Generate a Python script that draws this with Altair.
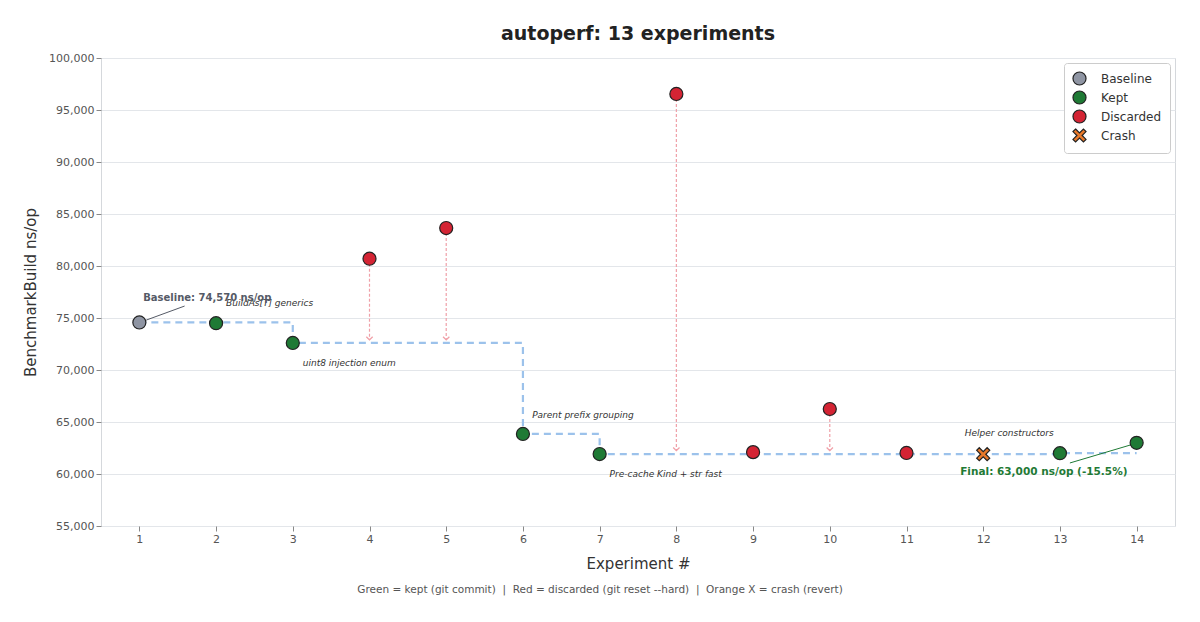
import altair as alt
import pandas as pd

# ---- data ----
experiments = [1, 2, 3, 4, 5, 6, 7, 8, 9, 10, 11, 12, 13, 14]
values = [74570, 74500, 72600, 80700, 83650, 63850, 61920, 96540, 62100, 66250, 62020, 61900, 62000, 63000]
statuses = ["Baseline", "Kept", "Kept", "Discarded", "Discarded", "Kept", "Kept",
            "Discarded", "Discarded", "Discarded", "Discarded", "Crash", "Kept", "Kept"]
best_so_far = [74570, 74570, 72600, 72600, 72600, 63850, 61920, 61920, 61920, 61920, 61920, 61920, 62000, 62000]

# discarded regressions drawn as arrows down to the best value
arrow_x = [4, 5, 8, 10]
arrow_from = [80700, 83650, 96540, 66250]
arrow_to = [72900, 72900, 62250, 62250]

# annotations
note_x = [2.13, 3.13, 6.12, 7.13, 11.76]
note_y = [76440, 70670, 65670, 60000, 63940]
note_text = ["BuildAs[T] generics", "uint8 injection enum", "Parent prefix grouping",
             "Pre-cache Kind + str fast", "Helper constructors"]

base_label_x = [1.05]
base_label_y = [76900]
base_label = ["Baseline: 74,570 ns/op"]
final_label_x = [11.7]
final_label_y = [60200]
final_label = ["Final: 63,000 ns/op (-15.5%)"]

base_conn = {"x": [1.09], "x2": [1.59], "y": [74800], "y2": [76150]}
final_conn = {"x": [13.13], "x2": [13.96], "y": [61060], "y2": [62880]}

status_order = ["Baseline", "Kept", "Discarded", "Crash"]
status_colors = ["#8f95a3", "#1f7a35", "#d42434", "#e8792a"]
x_path = "M-0.6,-1L0,-0.4L0.6,-1L1,-0.6L0.4,0L1,0.6L0.6,1L0,0.4L-0.6,1L-1,0.6L-0.4,0L-1,-0.6Z"
status_shapes = ["circle", "circle", "circle", x_path]
status_sizes = [170, 170, 170, 260]

footer_text = "Green = kept (git commit)\u00a0\u00a0|\u00a0\u00a0Red = discarded (git reset --hard)\u00a0\u00a0|\u00a0\u00a0Orange X = crash (revert)"

FONT = "DejaVu Sans"

pts = pd.DataFrame({"exp": experiments, "value": values, "status": statuses})
step = pd.DataFrame({"exp": experiments, "best": best_so_far})
arrows = pd.DataFrame({"exp": arrow_x, "y1": arrow_from, "y2": arrow_to})
notes = pd.DataFrame({"x": note_x, "y": note_y, "t": note_text})

xscale = alt.Scale(domain=[0.5, 14.5], nice=False, zero=False)
yscale = alt.Scale(domain=[55000, 100000], nice=False, zero=False)

xaxis = alt.Axis(values=experiments, title="Experiment #", grid=False, format="d",
                 labelFontSize=11, labelColor="#555", titleFontSize=15, titleColor="#333",
                 titleFontWeight="normal", titlePadding=12, tickColor="#888", domain=False,
                 labelFont=FONT, titleFont=FONT)
yaxis = alt.Axis(values=list(range(55000, 100001, 5000)), format=",d", title="BenchmarkBuild ns/op",
                 grid=True, gridColor="#e3e6ea", labelFontSize=11, labelColor="#555",
                 titleFontSize=15, titleColor="#333", titleFontWeight="normal", titlePadding=10,
                 tickColor="#888", domain=False, labelFont=FONT, titleFont=FONT)

step_line = alt.Chart(step).mark_line(
    interpolate="step-after", color="#9cc2eb", strokeWidth=2.2, strokeDash=[7, 5]
).encode(
    x=alt.X("exp:Q", scale=xscale, axis=xaxis),
    y=alt.Y("best:Q", scale=yscale, axis=yaxis),
)

arrow_rules = alt.Chart(arrows).mark_rule(
    color="#f0a0a8", strokeWidth=1.2, strokeDash=[3, 2]
).encode(x="exp:Q", y="y1:Q", y2="y2:Q")

arrow_heads = alt.Chart(arrows).mark_point(
    shape="M-1,-1L0,0L1,-1", filled=False, color="#f0a0a8", size=40, strokeWidth=1.3, opacity=1
).encode(x="exp:Q", y="y2:Q")

base_connector = alt.Chart(pd.DataFrame(base_conn)).mark_rule(strokeWidth=1, color="#555a66").encode(
    x="x:Q", x2="x2:Q", y="y:Q", y2="y2:Q")
final_connector = alt.Chart(pd.DataFrame(final_conn)).mark_rule(strokeWidth=1, color="#1f7a35").encode(
    x="x:Q", x2="x2:Q", y="y:Q", y2="y2:Q")

legend = alt.Legend(title=None, orient="top-right", offset=5, symbolSize=170,
                    symbolStrokeColor="#222", symbolStrokeWidth=1.2,
                    labelFontSize=12, labelColor="#333", labelFont=FONT, labelOffset=14,
                    rowPadding=0, padding=8, strokeColor="#cccccc",
                    fillColor="white", cornerRadius=3)

points = alt.Chart(pts).mark_point(
    filled=True, stroke="#222222", strokeWidth=1.2, opacity=1
).encode(
    x="exp:Q",
    y="value:Q",
    color=alt.Color("status:N", scale=alt.Scale(domain=status_order, range=status_colors), legend=legend),
    shape=alt.Shape("status:N", scale=alt.Scale(domain=status_order, range=status_shapes), legend=legend),
    size=alt.Size("status:N", scale=alt.Scale(domain=status_order, range=status_sizes), legend=None),
)

note_text_layer = alt.Chart(notes).mark_text(
    align="left", baseline="middle", fontStyle="italic", fontSize=9, color="#333", font=FONT
).encode(x="x:Q", y="y:Q", text="t:N")

base_text = alt.Chart(pd.DataFrame({"x": base_label_x, "y": base_label_y, "t": base_label})).mark_text(
    align="left", baseline="middle", fontWeight="bold", fontSize=10, font=FONT, color="#555a66"
).encode(x="x:Q", y="y:Q", text="t:N")

final_text = alt.Chart(pd.DataFrame({"x": final_label_x, "y": final_label_y, "t": final_label})).mark_text(
    align="left", baseline="middle", fontWeight="bold", fontSize=10.5, font=FONT, color="#1f7a35"
).encode(x="x:Q", y="y:Q", text="t:N")

footer = alt.Chart(pd.DataFrame({"t": [footer_text]})).mark_text(
    align="center", baseline="middle", fontSize=10.5, color="#555", font=FONT
).encode(text="t:N", x=alt.value(499), y=alt.value(532))

chart = alt.layer(
    step_line, arrow_rules, arrow_heads, base_connector, final_connector, points,
    note_text_layer, base_text, final_text, footer
).properties(
    width=1074, height=468,
    title=alt.TitleParams("autoperf: 13 experiments", fontSize=19, fontWeight="bold", color="#222",
                          font=FONT, anchor="middle", offset=8),
    autosize=alt.AutoSizeParams(type="none"),
    padding={"left": 93, "top": 50, "right": 17, "bottom": 80},
).configure_view(stroke="#d5d8dc")

chart.save("out.html", embed_options={"renderer": "svg", "actions": False})
